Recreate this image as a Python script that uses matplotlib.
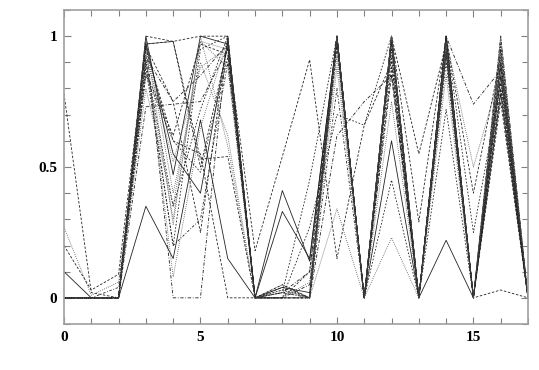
import numpy as np
import matplotlib.pyplot as plt
from matplotlib.ticker import MultipleLocator

plt.rcParams['font.family'] = ['Liberation Serif', 'DejaVu Serif']
plt.rcParams['font.weight'] = 'bold'

x = list(range(18))

# each run: 18 values, one per integer step
runs = [
    [0.78, 0.02, 0.00, 1.00, 0.98, 1.00, 1.00, 0.00, 0.00, 0.00, 1.00, 0.00, 1.00, 0.00, 1.00, 0.00, 0.95, 0.00],
    [0.10, 0.00, 0.00, 0.35, 0.15, 0.68, 0.15, 0.00, 0.33, 0.15, 1.00, 0.00, 1.00, 0.00, 0.22, 0.00, 0.85, 0.00],
    [0.27, 0.01, 0.06, 0.90, 0.30, 0.98, 0.95, 0.00, 0.05, 0.00, 0.34, 0.00, 0.23, 0.00, 0.95, 0.00, 0.80, 0.00],
    [0.20, 0.03, 0.09, 0.97, 0.98, 0.50, 0.96, 0.18, 0.54, 0.91, 0.15, 0.66, 0.90, 0.00, 1.00, 0.00, 0.03, 0.00],
    [0.00, 0.00, 0.00, 0.98, 0.00, 0.00, 1.00, 0.00, 0.02, 0.10, 1.00, 0.00, 0.95, 0.00, 1.00, 0.00, 0.90, 0.00],
    [0.00, 0.00, 0.00, 0.95, 0.60, 0.55, 0.00, 0.00, 0.04, 0.00, 0.98, 0.00, 1.00, 0.29, 1.00, 0.00, 0.88, 0.00],
    [0.00, 0.00, 0.00, 0.73, 0.74, 0.75, 0.95, 0.00, 0.00, 0.05, 1.00, 0.00, 0.85, 0.00, 0.98, 0.00, 1.00, 0.00],
    [0.00, 0.00, 0.00, 0.97, 0.98, 0.53, 0.54, 0.00, 0.00, 0.00, 0.96, 0.00, 1.00, 0.00, 1.00, 0.40, 0.92, 0.00],
    [0.00, 0.00, 0.00, 1.00, 0.47, 1.00, 0.97, 0.00, 0.41, 0.14, 1.00, 0.00, 0.60, 0.00, 0.95, 0.00, 0.78, 0.00],
    [0.00, 0.00, 0.00, 0.92, 0.75, 0.85, 0.97, 0.00, 0.02, 0.00, 0.62, 0.75, 0.85, 0.00, 1.00, 0.74, 0.87, 0.00],
    [0.00, 0.00, 0.00, 0.88, 0.20, 0.95, 1.00, 0.00, 0.00, 0.27, 0.70, 0.66, 1.00, 0.00, 0.90, 0.00, 0.95, 0.00],
    [0.00, 0.00, 0.00, 0.85, 0.60, 0.48, 0.92, 0.00, 0.03, 0.00, 1.00, 0.00, 0.45, 0.00, 1.00, 0.25, 0.82, 0.00],
    [0.00, 0.00, 0.00, 0.80, 0.35, 0.98, 0.88, 0.00, 0.00, 0.06, 0.92, 0.00, 0.97, 0.00, 0.85, 0.00, 1.00, 0.00],
    [0.00, 0.00, 0.00, 0.96, 0.75, 0.25, 0.99, 0.00, 0.05, 0.00, 1.00, 0.00, 1.00, 0.55, 0.97, 0.00, 0.75, 0.00],
    [0.00, 0.00, 0.00, 0.99, 0.28, 1.00, 0.58, 0.00, 0.00, 0.00, 0.95, 0.00, 0.75, 0.00, 1.00, 0.00, 0.93, 0.00],
    [0.00, 0.00, 0.00, 0.90, 0.35, 0.72, 1.00, 0.00, 0.02, 0.45, 1.00, 0.00, 0.92, 0.00, 0.72, 0.00, 0.97, 0.00],
    [0.00, 0.00, 0.00, 0.93, 0.52, 0.88, 0.96, 0.00, 0.00, 0.00, 0.88, 0.00, 1.00, 0.00, 0.99, 0.50, 0.86, 0.00],
    [0.00, 0.00, 0.00, 0.97, 0.55, 0.40, 0.98, 0.00, 0.04, 0.02, 1.00, 0.00, 0.98, 0.00, 0.93, 0.00, 0.90, 0.00],
    [0.00, 0.00, 0.00, 0.86, 0.62, 0.97, 0.93, 0.00, 0.00, 0.10, 0.97, 0.00, 0.88, 0.00, 1.00, 0.00, 0.80, 0.00],
    [0.00, 0.00, 0.00, 0.94, 0.08, 0.65, 0.99, 0.00, 0.03, 0.00, 1.00, 0.00, 1.00, 0.00, 0.96, 0.00, 0.99, 0.00],
    [0.00, 0.00, 0.04, 0.91, 0.20, 0.30, 0.90, 0.00, 0.00, 0.00, 0.80, 0.00, 0.95, 0.00, 0.99, 0.00, 0.84, 0.00],
    [0.00, 0.00, 0.00, 0.99, 0.40, 0.90, 0.62, 0.00, 0.02, 0.00, 1.00, 0.00, 1.00, 0.00, 0.98, 0.00, 0.91, 0.00],
]

styles = [
    (0, (3, 2)), '-', (0, (1, 1.5)), (0, (3, 2)), (0, (4, 2, 1, 2)),
    (0, (3, 2)), (0, (4, 2, 1, 2)), (0, (3, 2)), '-', (0, (4, 2, 1, 2)),
    (0, (2, 2)), (0, (2, 2)), (0, (1, 1.5)), (0, (3, 2)), (0, (1, 1.5)),
    (0, (2, 2)), (0, (1, 1.5)), '-', (0, (3, 2)), (0, (1, 1.5)),
    (0, (3, 2, 1, 2)), (0, (1, 1.5)),
]

fig = plt.figure(figsize=(5.39, 3.70), dpi=100)
ax = fig.add_axes([0.1187, 0.1243, 0.8609, 0.8487])

for vals, ls in zip(runs, styles):
    col = '#555555' if ls == (0, (1, 1.5)) else '#222222'
    ax.plot(x, vals, color=col, linestyle=ls, linewidth=0.6)

ax.set_xlim(0, 17)
ax.set_ylim(-0.1, 1.1)

ax.xaxis.set_minor_locator(MultipleLocator(1))
ax.yaxis.set_minor_locator(MultipleLocator(0.1))
ax.set_xticks([0, 5, 10, 15])
ax.set_xticklabels(['0', '5', '10', '15'])
ax.set_yticks([0, 0.5, 1])
ax.set_yticklabels(['0', '0.5', '1'])

grey = '#a0a0a0'
for sp in ax.spines.values():
    sp.set_color(grey)
    sp.set_linewidth(1.2)

ax.tick_params(which='both', direction='in', top=True, right=True, color='#808080', width=0.8)
ax.tick_params(which='major', length=5, pad=5, labelsize=11)
ax.tick_params(which='minor', length=4)

fig.savefig('out.png', dpi=100)
